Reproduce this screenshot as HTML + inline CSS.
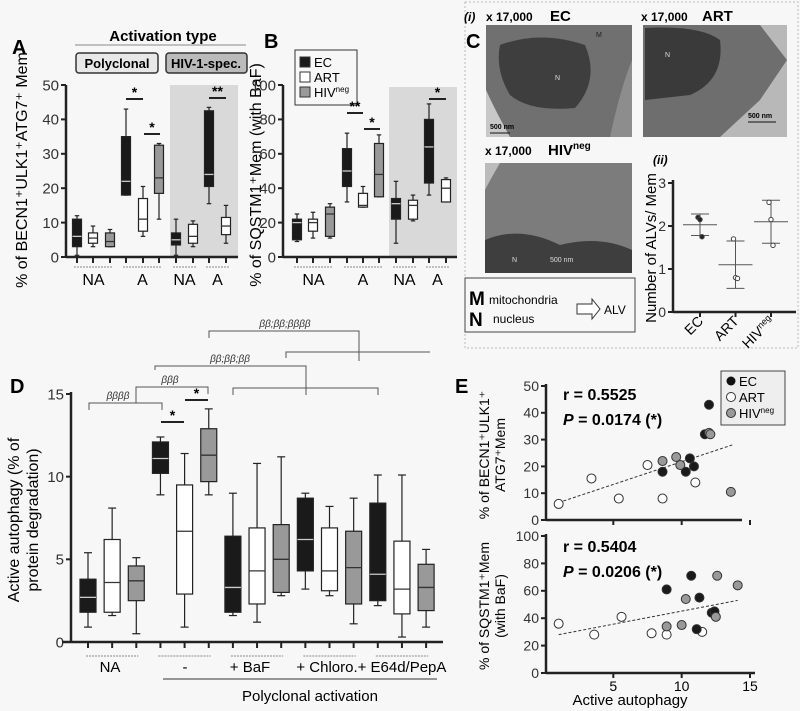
<!DOCTYPE html>
<html><head><meta charset="utf-8"><style>
body{margin:0;background:#f7f7f7;}
svg{display:block;font-family:"Liberation Sans",sans-serif;}
</style></head><body>
<svg id="fig" width="800" height="711" viewBox="0 0 800 711" xmlns="http://www.w3.org/2000/svg">
<rect x="0" y="0" width="800" height="711" fill="#f7f7f7"/>
<g>
<text x="12" y="54" font-size="20" font-weight="bold">A</text>
<text x="163" y="41" font-size="15" font-weight="bold" text-anchor="middle">Activation type</text>
<line x1="75" y1="45" x2="246" y2="45" stroke="#888" stroke-width="1"/>
<rect x="76" y="53" width="82" height="20" rx="3" fill="#e8e8e8" stroke="#333" stroke-width="1.5"/>
<text x="117" y="68" font-size="13" font-weight="bold" text-anchor="middle">Polyclonal</text>
<rect x="166" y="53" width="81" height="20" rx="3" fill="#bbb" stroke="#333" stroke-width="1.5"/>
<text x="206" y="68" font-size="13" font-weight="bold" text-anchor="middle">HIV-1-spec.</text>
<rect x="170" y="85" width="68" height="172" fill="#d9d9d9"/>
<text transform="translate(27,170) rotate(-90)" font-size="16" text-anchor="middle">% of BECN1⁺ULK1⁺ATG7⁺ Mem</text>
</g>
<g>
<text x="264" y="48" font-size="20" font-weight="bold">B</text>
<rect x="389" y="87" width="68" height="170" fill="#d9d9d9"/>
<text transform="translate(261,175) rotate(-90)" font-size="16" text-anchor="middle">% of SQSTM1⁺Mem (with BaF)</text>
<rect x="295" y="50" width="62" height="55" fill="#f7f7f7" stroke="#333" stroke-width="1"/>
<rect x="300" y="57" width="10" height="10" fill="#1a1a1a" stroke="#333"/><text x="314" y="67" font-size="13">EC</text>
<rect x="300" y="72" width="10" height="10" fill="#fff" stroke="#333"/><text x="314" y="82" font-size="13">ART</text>
<rect x="300" y="87" width="10" height="10" fill="#999" stroke="#333"/><text x="314" y="97" font-size="13">HIV<tspan font-size="8" dy="-5">neg</tspan></text>
</g>
<g>
<rect x="465" y="2" width="333" height="346" fill="none" stroke="#bbb" stroke-dasharray="2,2"/>
<text x="464" y="21" font-size="12" font-weight="bold" font-style="italic">(i)</text>
<text x="486" y="21" font-size="12" font-weight="bold">x 17,000</text>
<text x="550" y="21" font-size="15" font-weight="bold">EC</text>
<text x="641" y="21" font-size="12" font-weight="bold">x 17,000</text>
<text x="702" y="21" font-size="15" font-weight="bold">ART</text>
<text x="466" y="48" font-size="20" font-weight="bold">C</text>
<g>
<rect x="486" y="25" width="146" height="112" fill="#8d8d8d"/>
<path d="M486 25 L632 25 L632 60 Q620 90 610 137 L486 137 Z" fill="#707070"/>
<path d="M500 45 Q540 30 585 45 Q600 80 575 108 Q530 112 510 95 Q495 70 500 45Z" fill="#3e3e3e"/>
<path d="M486 90 Q495 110 510 137 L486 137Z" fill="#c8c8c8"/>
<text x="555" y="80" font-size="7" fill="#ddd">N</text><text x="596" y="37" font-size="7" fill="#222">M</text>
<line x1="490" y1="133" x2="510" y2="133" stroke="#111"/><text x="490" y="129" font-size="7" font-weight="bold">500 nm</text>
</g>
<g>
<rect x="643" y="25" width="144" height="112" fill="#b8b8b8"/>
<path d="M643 25 L760 25 L787 60 L760 100 L720 137 L643 137Z" fill="#6e6e6e"/>
<path d="M645 28 Q700 25 720 40 Q725 80 690 95 L645 100Z" fill="#3a3a3a"/>
<text x="665" y="57" font-size="7" fill="#ddd">N</text>
<line x1="748" y1="122" x2="776" y2="122" stroke="#111"/><text x="748" y="118" font-size="7" font-weight="bold">500 nm</text>
</g>
<text x="485" y="155" font-size="12" font-weight="bold">x 17,000</text>
<text x="548" y="155" font-size="15" font-weight="bold">HIV<tspan font-size="10" dy="-6">neg</tspan></text>
<g>
<rect x="485" y="163" width="147" height="110" fill="#7c7c7c"/>
<path d="M485 163 L500 163 Q490 180 485 190Z" fill="#bbb"/>
<path d="M485 240 Q520 225 560 245 Q600 235 632 250 L632 273 L485 273Z" fill="#3e3e3e"/>
<text x="512" y="262" font-size="7" fill="#ddd">N</text><text x="550" y="262" font-size="7" fill="#ddd">500 nm</text>
</g>
<rect x="465" y="278" width="170" height="54" fill="#f7f7f7" stroke="#444" stroke-width="1"/>
<text x="469" y="305" font-size="19" font-weight="bold">M</text><text x="489" y="304" font-size="12">mitochondria</text>
<text x="469" y="326" font-size="19" font-weight="bold">N</text><text x="493" y="323" font-size="12">nucleus</text>
<path d="M577 304 L592 304 L592 299 L600 309 L592 319 L592 314 L577 314Z" fill="#fff" stroke="#333"/>
<text x="604" y="314" font-size="12">ALV</text>
<text x="653" y="164" font-size="12" font-weight="bold" font-style="italic">(ii)</text>
<text transform="translate(656,248) rotate(-90)" font-size="15" text-anchor="middle">Number of ALVs/ Mem</text>
</g>
<g>
<text x="10" y="393" font-size="20" font-weight="bold">D</text>
<text transform="translate(19,520) rotate(-90)" font-size="16" text-anchor="middle">Active autophagy (% of</text>
<text transform="translate(38,520) rotate(-90)" font-size="16" text-anchor="middle">protein degradation)</text>
<line x1="163" y1="679" x2="437" y2="679" stroke="#333"/>
<text x="310" y="701" font-size="15" text-anchor="middle">Polyclonal activation</text>
<g stroke="#555" fill="none" stroke-width="1">
<path d="M89 410 L89 403 L162 403 L162 410"/>
<path d="M136 403 L136 387 L208 387 L208 394"/>
<path d="M155 370 L155 366 L306 366 L306 395"/>
<path d="M233 395 L233 388 L378 388 L378 395"/>
<path d="M209 338 L209 331 L359 331 L359 361"/>
<path d="M286 358 L286 352 L430 352"/>
</g>
<g font-size="10" font-style="italic" fill="#333" text-anchor="middle">
<text x="118" y="399">ββββ</text><text x="170" y="383">βββ</text><text x="230" y="362">ββ;ββ;ββ</text><text x="285" y="327">ββ;ββ;ββββ</text>
</g>
</g>
<g>
<text x="455" y="393" font-size="20" font-weight="bold">E</text>
<text transform="translate(489,455) rotate(-90)" font-size="14" text-anchor="middle">% of BECN1⁺ULK1⁺</text>
<text transform="translate(505,455) rotate(-90)" font-size="14" text-anchor="middle">ATG7⁺Mem</text>
<text transform="translate(489,606) rotate(-90)" font-size="14" text-anchor="middle">% of SQSTM1⁺Mem</text>
<text transform="translate(505,606) rotate(-90)" font-size="14" text-anchor="middle">(with BaF)</text>
<text x="563" y="400" font-size="16" font-weight="bold">r = 0.5525</text>
<text x="563" y="425" font-size="16" font-weight="bold"><tspan font-style="italic">P</tspan> = 0.0174 (*)</text>
<text x="563" y="552" font-size="16" font-weight="bold">r = 0.5404</text>
<text x="563" y="577" font-size="16" font-weight="bold"><tspan font-style="italic">P</tspan> = 0.0206 (*)</text>
<text x="630" y="705" font-size="15" text-anchor="middle">Active autophagy</text>
<rect x="721" y="371" width="64" height="54" fill="#eee" stroke="#444"/>
<circle cx="731" cy="381" r="4.5" fill="#111"/><text x="739" y="386" font-size="13">EC</text>
<circle cx="731" cy="397" r="4.5" fill="#fff" stroke="#333"/><text x="739" y="402" font-size="13">ART</text>
<circle cx="731" cy="413" r="4.5" fill="#999" stroke="#333"/><text x="739" y="418" font-size="13">HIV<tspan font-size="8" dy="-5">neg</tspan></text>
</g>
<g id="dyn"></g>
</svg>
<script>
const aGroups = ["EC","ART","HIV","EC","ART","HIV","EC","ART","EC","ART"];
const aStats = [[0.5,3,6,11,12],[3,4,5.5,7,9],[3,3,4.5,7,8],[18,18,22,35,43],[6,7.5,11,17,20.5],[11,18.5,23,32.5,33],[0.5,3.5,5,7,11],[3,4,6,9.5,10.5],[15.5,20.5,24,42.5,43.5],[4,6.5,9,11.5,15]];
const aTicks = [0,10,20,30,40,50];
const aXLabels = ["NA","A","NA","A"];
const bGroups = ["EC","ART","HIV","EC","ART","HIV","EC","ART","EC","ART"];
const bStats = [[9,10,20,22,25],[11,15,20,22,26],[11,12,25,29,31],[32,41,50,63,72],[29,29,30,37,41],[35,35,48,66,71],[8,22,31,34,44],[21,22,30,33,36],[36,43,64,80,89],[32,32,40,45,46]];
const bTicks = [0,20,40,60,80,100];
const cCats = ["EC","ART","HIVneg"];
const cPoints = [[2.2,2.15,1.75],[1.7,0.8,0.78],[2.55,2.15,1.55]];
const cMeans = [2.03,1.1,2.1];
const cSD = [0.25,0.55,0.5];
const cTicks = [0,1,2,3];
const dGroups = ["EC","ART","HIV","EC","ART","HIV","EC","ART","HIV","EC","ART","HIV","EC","ART","HIV"];
const dStats = [[0.9,1.8,2.7,3.8,5.4],[1.6,1.8,3.6,6.2,8.1],[0.5,2.5,3.7,4.6,5.1],[8.9,10.2,11.1,12.1,12.4],[0.9,2.9,6.7,9.5,11.4],[8.9,9.7,11.3,12.9,14.1],[1.6,1.8,3.3,6.4,9],[1.2,2.3,4.3,6.9,10.8],[2.8,3,5,7.1,11.2],[3.2,4.3,6.2,8.7,9],[2.8,3.1,4.3,6.9,8.2],[1.1,2.3,4.5,6.7,8.7],[2.2,2.5,4.1,8.4,10.1],[0.3,1.7,3.2,6.1,10.1],[0.9,1.9,3.3,4.7,5.6]];
const dTicks = [0,5,10,15];
const dXLabels = ["NA","-","+ BaF","+ Chloro.","+ E64d/PepA"];
const eTopX = [1,3.4,5.4,7.5,8.6,11, 8.6,10.3,10.6,10.9,11.7,12, 8.6,9.6,9.9,12,12.1,13.6];
const eTopY = [6,15.5,8,20.5,8,14, 18,18,23,20,32,43, 22,23.5,20.5,32.5,32,10.5];
const eBotX = [1,3.6,5.6,7.8,8.9,11.5, 8.9,10.7,11.3,11.1,12.2,12.4, 8.9,10,10.3,12.5,12.6,14.1];
const eBotY = [36,28,41,29,28,30, 61,71,55,32,44,45, 34,35,54,41,71,64];
const eGroups = ["ART","ART","ART","ART","ART","ART","EC","EC","EC","EC","EC","EC","HIV","HIV","HIV","HIV","HIV","HIV"];
const eTopFit = [[1,6.5],[13.7,28]];
const eBotFit = [[1,28],[14.1,53]];
const eTopTicks = [0,10,20,30,40,50];
const eBotTicks = [0,20,40,60,80,100];
const eXTicks = [5,10,15];

const NS = "http://www.w3.org/2000/svg";
const dyn = document.getElementById("dyn");
const FILL = {EC:"#1a1a1a", ART:"#ffffff", HIV:"#999999"};
function mk(tag, attrs, parent){const e=document.createElementNS(NS,tag);for(const k in attrs)e.setAttribute(k,attrs[k]);(parent||dyn).appendChild(e);return e;}
function lin(d0,d1,r0,r1){return v=>r0+(v-d0)*(r1-r0)/(d1-d0);}

function boxPlot(stats, groups, xs, y, w, prefix){
  stats.forEach((s,i)=>{
    const cx = xs(i), t=groups[i];
    const g = mk("g",{});
    
    
    mk("line",{x1:cx,x2:cx,y1:y(s[0]),y2:y(s[4]),stroke:"#222","stroke-width":1.2},g);
    mk("line",{x1:cx-w/4,x2:cx+w/4,y1:y(s[0]),y2:y(s[0]),stroke:"#222","stroke-width":1.2},g);
    mk("line",{x1:cx-w/4,x2:cx+w/4,y1:y(s[4]),y2:y(s[4]),stroke:"#222","stroke-width":1.2},g);
    mk("rect",{x:cx-w/2,y:y(s[3]),width:w,height:y(s[1])-y(s[3]),fill:FILL[t],stroke:"#222","stroke-width":1.2},g);
    mk("line",{x1:cx-w/2,x2:cx+w/2,y1:y(s[2]),y2:y(s[2]),stroke:t==="EC"?"#ccc":"#333","stroke-width":1.3},g);
  });
}
function yAxis(x, y, ticks, y0, y1, fs, prefix){
  mk("line",{x1:x,x2:x,y1:y0,y2:y1,stroke:"#222","stroke-width":2.5});
  ticks.forEach(t=>{
    mk("line",{x1:x-5,x2:x,y1:y(t),y2:y(t),stroke:"#222","stroke-width":2});
    const tx=mk("text",{x:x-7,y:y(t)+fs*0.35,"font-size":fs,"text-anchor":"end",fill:"#333"});
    tx.textContent=t;
    
    
  });
}
function xAxisTicks(xL,xR,yy,xs,n){
  mk("line",{x1:xL,x2:xR,y1:yy,y2:yy,stroke:"#222","stroke-width":2.5});
  for(let i=0;i<n;i++) mk("line",{x1:xs(i),x2:xs(i),y1:yy,y2:yy+6,stroke:"#222","stroke-width":2});
}
function sigBar(x1,x2,yy,lab){
  mk("line",{x1:x1,x2:x2,y1:yy,y2:yy,stroke:"#222","stroke-width":2});
  const t=mk("text",{x:(x1+x2)/2,y:yy-2,"font-size":14,"font-weight":"bold","text-anchor":"middle"});t.textContent=lab;
  
  
}

const aPos=[77,93,110,126,143,159,176,193,209,226];
const ax = i=>aPos[i];
const ay = lin(0,50,257,85);
boxPlot(aStats,aGroups,ax,ay,9,"panel-a");
yAxis(66,ay,aTicks,85,258,15,"panel-a");
xAxisTicks(66,238,257,ax,aPos.length);
[[77,110],[126,159],[176,193],[209,226]].forEach((p,i)=>{
  mk("line",{x1:p[0]-3,x2:p[1]+3,y1:267,y2:267,stroke:"#888","stroke-dasharray":"2,1"});
  const t=mk("text",{x:(p[0]+p[1])/2,y:285,"font-size":16,"text-anchor":"middle"});t.textContent=aXLabels[i];
  
  
});
sigBar(126,143,99,"*");sigBar(144,160,134,"*");sigBar(209,226,98,"**");

const bPos=[297,313,330,347,363,379,396,413,429,446];
const bx=i=>bPos[i];
const by=lin(0,100,257,85);
boxPlot(bStats,bGroups,bx,by,9,"panel-b");
yAxis(283,by,bTicks,85,258,15,"panel-b");
xAxisTicks(283,457,257,bx,bPos.length);
[[297,330],[347,379],[396,413],[429,446]].forEach((p,i)=>{
  mk("line",{x1:p[0]-3,x2:p[1]+3,y1:267,y2:267,stroke:"#888","stroke-dasharray":"2,1"});
  const t=mk("text",{x:(p[0]+p[1])/2,y:285,"font-size":16,"text-anchor":"middle"});t.textContent=aXLabels[i];
  
  
});
sigBar(347,363,113,"**");sigBar(364,380,129,"*");sigBar(429,446,99,"*");

const cy=lin(0,3,312,183);
const cx=i=>700+i*35.5;
yAxis(673,cy,cTicks,180,313,14,"panel-c");
mk("line",{x1:673,x2:796,y1:312,y2:312,stroke:"#222","stroke-width":2.5});
cCats.forEach((c,i)=>{
  mk("line",{x1:cx(i),x2:cx(i),y1:312,y2:317,stroke:"#222","stroke-width":2});
  const lbl = c==="HIVneg" ? "HIV" : c;
  const t=mk("text",{transform:`translate(${cx(i)+4},${322}) rotate(-45)`,"font-size":14,"text-anchor":"end"});
  t.textContent=lbl;
  if(c==="HIVneg"){const s=mk("tspan",{"font-size":9,dy:-5},t);s.textContent="neg";}
  
  
  const m=cMeans[i], sd=cSD[i], x=cx(i);
  mk("line",{x1:x,x2:x,y1:cy(m-sd),y2:cy(m+sd),stroke:"#555"});
  mk("line",{x1:x-17,x2:x+17,y1:cy(m),y2:cy(m),stroke:"#555"});
  mk("line",{x1:x-9,x2:x+9,y1:cy(m-sd),y2:cy(m-sd),stroke:"#555"});
  mk("line",{x1:x-9,x2:x+9,y1:cy(m+sd),y2:cy(m+sd),stroke:"#555"});
  cPoints[i].forEach((v,j)=>{
    const p=mk("circle",{cx:x+(j-1)*2,cy:cy(v),r:2.2,fill:i===0?"#222":"#fff",stroke:"#444"});
    
    
  });
});

const dx=i=>88+i*24.15;
const dy=lin(0,15,642,394);
boxPlot(dStats,dGroups,dx,dy,16,"panel-d");
yAxis(71,dy,dTicks,392,643,15,"panel-d");
xAxisTicks(62,443,642,dx,dStats.length);
const dLabX=[110,185,250,327,402];
dXLabels.forEach((l,i)=>{
  mk("line",{x1:dx(i*3)-2,x2:dx(i*3+2)+2,y1:656,y2:656,stroke:"#888","stroke-dasharray":"2,1"});
  const t=mk("text",{x:dLabX[i],y:672,"font-size":15,"text-anchor":"middle"});t.textContent=l;
  
  
});
sigBar(161,184,422,"*");sigBar(185,208,400,"*");

const ex=lin(0,15,545,750);
const eyT=lin(0,50,520,386);
const eyB=lin(0,100,673,536);
yAxis(546,eyT,eTopTicks,384,521,14,"panel-e-top");
mk("line",{x1:546,x2:742,y1:520,y2:520,stroke:"#222","stroke-width":2.5});
eXTicks.forEach(t=>mk("line",{x1:ex(t),x2:ex(t),y1:520,y2:525,stroke:"#222","stroke-width":2}));
yAxis(546,eyB,eBotTicks,534,674,14,"panel-e-bottom");
mk("line",{x1:546,x2:755,y1:673,y2:673,stroke:"#222","stroke-width":2.5});
eXTicks.forEach(t=>{
  mk("line",{x1:ex(t),x2:ex(t),y1:673,y2:678,stroke:"#222","stroke-width":2});
  const tx=mk("text",{x:ex(t),y:691,"font-size":14,"text-anchor":"middle"});tx.textContent=t;
  
  
});
mk("line",{x1:ex(eTopFit[0][0]),y1:eyT(eTopFit[0][1]),x2:ex(eTopFit[1][0]),y2:eyT(eTopFit[1][1]),stroke:"#333","stroke-dasharray":"3,2"});
mk("line",{x1:ex(eBotFit[0][0]),y1:eyB(eBotFit[0][1]),x2:ex(eBotFit[1][0]),y2:eyB(eBotFit[1][1]),stroke:"#333","stroke-dasharray":"3,2"});
eGroups.forEach((g,i)=>{
  const c1=mk("circle",{cx:ex(eTopX[i]),cy:eyT(eTopY[i]),r:4.5,fill:FILL[g],stroke:"#333"});
  
  
  const c2=mk("circle",{cx:ex(eBotX[i]),cy:eyB(eBotY[i]),r:4.5,fill:FILL[g],stroke:"#333"});
  
  
});
</script>
</body></html>
